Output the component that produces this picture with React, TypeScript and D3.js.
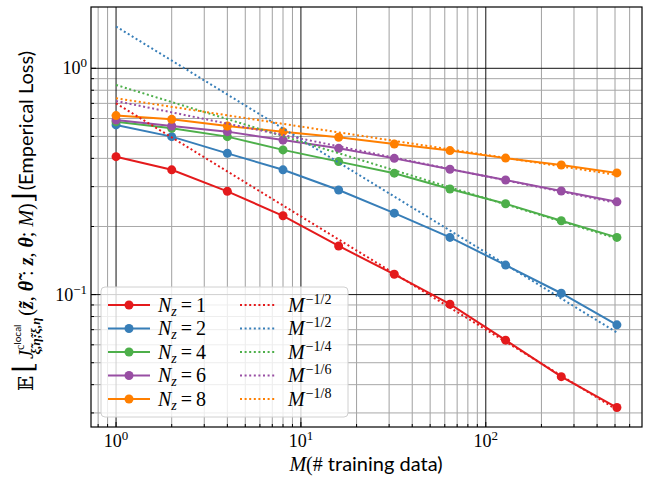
import React from "react";
import * as d3 from "d3";

// training-set sizes
const M = [1, 2, 4, 8, 16, 32, 64, 128, 256, 512];
const nz = [1, 2, 4, 6, 8];
const colors = ["#e41a1c", "#377eb8", "#4daf4a", "#984ea3", "#ff7f00"];

const loss1 = [0.407, 0.356, 0.286, 0.223, 0.164, 0.123, 0.0907, 0.0629, 0.0434, 0.0317];
const loss2 = [0.562, 0.499, 0.421, 0.356, 0.29, 0.229, 0.179, 0.135, 0.1014, 0.0735];
const loss4 = [0.581, 0.543, 0.499, 0.436, 0.387, 0.344, 0.293, 0.252, 0.212, 0.179];
const loss6 = [0.591, 0.556, 0.525, 0.482, 0.443, 0.4, 0.358, 0.321, 0.287, 0.257];
const loss8 = [0.618, 0.595, 0.556, 0.525, 0.496, 0.463, 0.433, 0.401, 0.374, 0.345];
const losses = [loss1, loss2, loss4, loss6, loss8];

// reference power-law lines: value at M=1 and at M=512
const refStart = [0.7, 1.53, 0.844, 0.717, 0.737];
const refEnd = [0.031, 0.068, 0.177, 0.254, 0.338];
const refLabels = ["−1/2", "−1/2", "−1/4", "−1/6", "−1/8"];

const xTicks = [1, 10, 100];
const yTicks = [0.1, 1];

const W = 662;
const H = 480;
const left = 91;
const right = 642;
const top = 7;
const bottom = 427;

const serif = "'Liberation Serif', 'DejaVu Serif', serif";
const sans = "'Lato', 'DejaVu Sans', sans-serif";

export default function App() {
  const x = d3.scaleLog().domain([Math.pow(10, -0.1355), Math.pow(10, 2.845)]).range([left, right]);
  const y = d3.scaleLog().domain([0.026, 1.866]).range([bottom, top]);

  const xMinor: number[] = [];
  for (let e = -1; e <= 2; e++) {
    for (let k = 2; k <= 9; k++) {
      const v = k * Math.pow(10, e);
      if (v > x.domain()[0] && v < x.domain()[1]) xMinor.push(v);
    }
  }
  const yMinor: number[] = [];
  for (let e = -2; e <= 0; e++) {
    for (let k = 2; k <= 9; k++) {
      const v = k * Math.pow(10, e);
      if (v > y.domain()[0] && v < y.domain()[1]) yMinor.push(v);
    }
  }

  const line = d3
    .line<number>()
    .x((d, i) => x(M[i]))
    .y((d) => y(d));

  const legRows = [305, 328.5, 352, 375.5, 399];

  return (
    <svg width={W} height={H} style={{ position: "absolute", left: 0, top: 0 }}>
      <rect width={W} height={H} fill="white" />
      {/* minor grid */}
      {xMinor.map((v) => (
        <line key={"xm" + v} x1={x(v)} x2={x(v)} y1={top} y2={bottom} stroke="#a0a0a0" strokeWidth={1} />
      ))}
      {yMinor.map((v) => (
        <line key={"ym" + v} x1={left} x2={right} y1={y(v)} y2={y(v)} stroke="#a8a8a8" strokeWidth={1} />
      ))}
      {/* major grid */}
      {xTicks.map((v) => (
        <line key={"xM" + v} x1={x(v)} x2={x(v)} y1={top} y2={bottom} stroke="#111" strokeWidth={1} />
      ))}
      {yTicks.map((v) => (
        <line key={"yM" + v} x1={left} x2={right} y1={y(v)} y2={y(v)} stroke="#111" strokeWidth={1} />
      ))}

      {/* data lines */}
      {losses.map((s, i) => (
        <g key={"s" + i}>
          <path d={line(s) || ""} fill="none" stroke={colors[i]} strokeWidth={2} />
          {s.map((d, j) => (
            <circle key={j} cx={x(M[j])} cy={y(d)} r={4.5} fill={colors[i]} />
          ))}
        </g>
      ))}
      {refStart.map((s, i) => (
        <line
          key={"r" + i}
          x1={x(M[0])}
          y1={y(s)}
          x2={x(M[M.length - 1])}
          y2={y(refEnd[i])}
          stroke={colors[i]}
          strokeWidth={2}
          strokeDasharray="2,2.6"
        />
      ))}

      {/* ticks (inward) */}
      {xTicks.map((v) => (
        <line key={"xt" + v} x1={x(v)} x2={x(v)} y1={bottom} y2={bottom - 5} stroke="black" />
      ))}
      {xMinor.map((v) => (
        <line key={"xtm" + v} x1={x(v)} x2={x(v)} y1={bottom} y2={bottom - 3} stroke="black" />
      ))}
      {yTicks.map((v) => (
        <line key={"yt" + v} x1={left} x2={left + 5} y1={y(v)} y2={y(v)} stroke="black" />
      ))}
      {yMinor.map((v) => (
        <line key={"ytm" + v} x1={left} x2={left + 3} y1={y(v)} y2={y(v)} stroke="black" />
      ))}

      <rect x={left} y={top} width={right - left} height={bottom - top} fill="none" stroke="black" strokeWidth={1.2} />

      {/* tick labels */}
      {xTicks.map((v) => (
        <text key={"xl" + v} x={x(v)} y={447} fontFamily={serif} fontSize={18} textAnchor="middle">
          10<tspan fontSize={13} dy={-7}>{Math.round(Math.log10(v))}</tspan>
        </text>
      ))}
      {yTicks.map((v) => (
        <text key={"yl" + v} x={87} y={y(v) + 6} fontFamily={serif} fontSize={18} textAnchor="end">
          10<tspan fontSize={13} dy={-7}>{Math.round(Math.log10(v)) === 0 ? "0" : "−1"}</tspan>
        </text>
      ))}

      {/* legend */}
      <rect x={101} y={287} width={247} height={130} rx={4} fill="white" fillOpacity={0.8} stroke="#d0d0d0" />
      {nz.map((n, i) => (
        <g key={"lg" + i}>
          <line x1={108} x2={150} y1={legRows[i]} y2={legRows[i]} stroke={colors[i]} strokeWidth={2} />
          <circle cx={129} cy={legRows[i]} r={4.5} fill={colors[i]} />
          <text x={158} y={legRows[i] + 6.5} fontFamily={serif} fontSize={20}>
            <tspan fontStyle="italic">N</tspan>
            <tspan fontStyle="italic" fontSize={14} dy={4}>z</tspan>
            <tspan dy={-4} dx={4}>=</tspan>
            <tspan dx={4}>{n}</tspan>
          </text>
          <line x1={240} x2={276} y1={legRows[i]} y2={legRows[i]} stroke={colors[i]} strokeWidth={2} strokeDasharray="2,2.6" />
          <text x={288} y={legRows[i] + 6.5} fontFamily={serif} fontSize={20}>
            <tspan fontStyle="italic">M</tspan>
            <tspan fontSize={14} dx={1} dy={-8}>{refLabels[i]}</tspan>
          </text>
        </g>
      ))}

      {/* axis labels */}
      <text x={366} y={471} textAnchor="middle" fontSize={20}>
        <tspan fontFamily={serif} fontStyle="italic">M</tspan>
        <tspan fontFamily={serif}>(</tspan>
        <tspan fontFamily={serif}>#</tspan>
        <tspan fontFamily={sans}> training data)</tspan>
      </text>
      <text transform="translate(33,221) rotate(-90)" textAnchor="middle" fontSize={20} fontFamily={serif}>
        <tspan>𝔼</tspan>
        <tspan fontSize={28} dx={3}>⌊</tspan>
        <tspan fontStyle="italic" dx={3}>J</tspan>
        <tspan fontSize={12} dy={-9}>c</tspan>
        <tspan fontSize={10} fontFamily={sans} dy={-3}>local</tspan>
        <tspan fontSize={13} fontWeight="bold" fontStyle="italic" dx={-30} dy={19}>ξ̃,η̃;ξ,η</tspan>
        <tspan dy={-7} dx={2}>(</tspan>
        <tspan fontStyle="italic" fontWeight="bold">z̃</tspan>
        <tspan>, </tspan>
        <tspan fontStyle="italic" fontWeight="bold">θ̃</tspan>
        <tspan> : </tspan>
        <tspan fontStyle="italic" fontWeight="bold">z</tspan>
        <tspan>, </tspan>
        <tspan fontStyle="italic" fontWeight="bold">θ</tspan>
        <tspan>; </tspan>
        <tspan fontStyle="italic">M</tspan>
        <tspan>)</tspan>
        <tspan fontSize={28}>⌋</tspan>
        <tspan fontFamily={sans} dx={2}>(Emperical Loss)</tspan>
      </text>
    </svg>
  );
}
